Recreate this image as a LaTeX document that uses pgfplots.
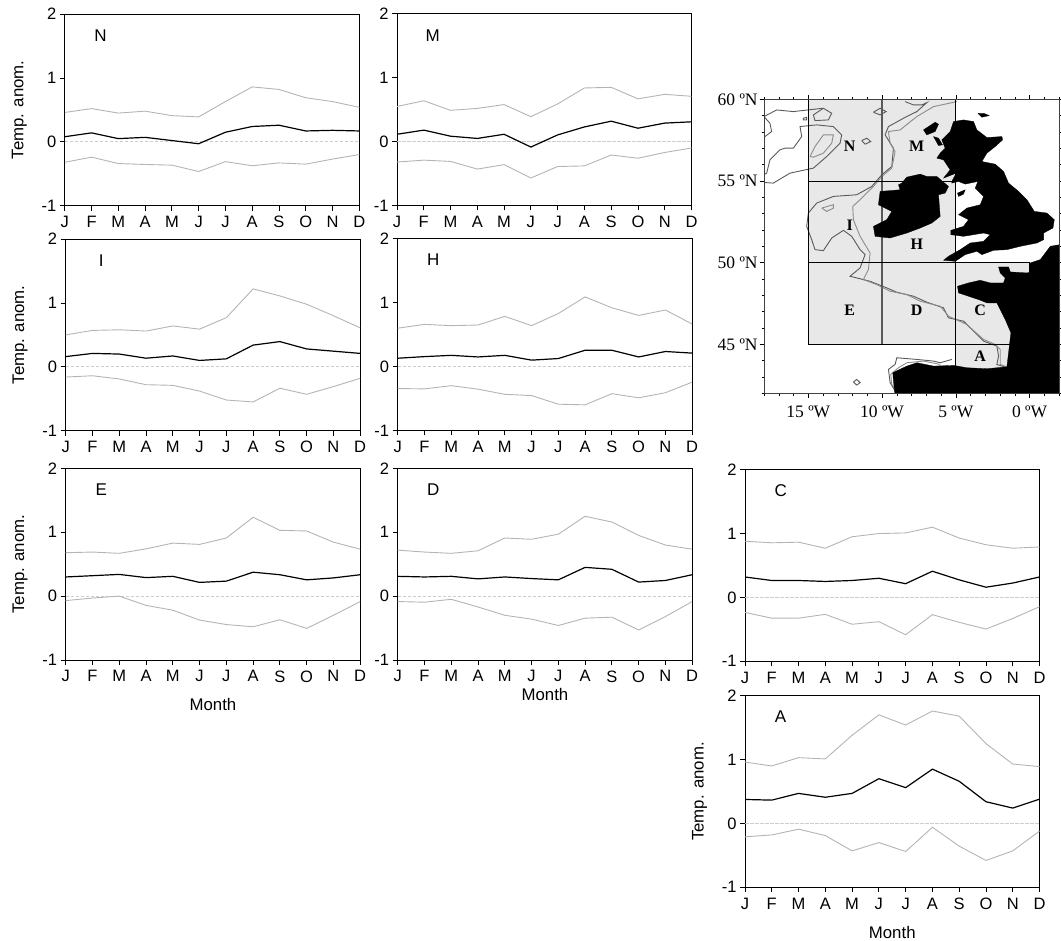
\documentclass[border=0pt]{standalone}
\usepackage{pgfplots}
\usepackage{pgfplotstable}
\usepackage{fontspec}
\pgfplotsset{compat=1.18}
\setmainfont{Liberation Sans}
\newfontfamily\mapfont{Liberation Serif}
\definecolor{band}{HTML}{B4B4B4}
\definecolor{zero}{HTML}{CDCDCD}
\definecolor{sea}{HTML}{E8E8E8}
\definecolor{cdark}{HTML}{5A5A5A}
\definecolor{clight}{HTML}{8C8C8C}

\pgfplotstableread{
m up mid low
1 .46 .08 -.32
2 .52 .14 -.24
3 .45 .05 -.34
4 .48 .07 -.355
5 .41 .02 -.365
6 .39 -.03 -.465
7 .63 .15 -.31
8 .86 .24 -.375
9 .82 .26 -.33
10 .69 .17 -.35
11 .63 .18 -.27
12 .54 .17 -.20
}\tN
\pgfplotstableread{
m up mid low
1 .55 .115 -.32
2 .64 .18 -.29
3 .49 .085 -.31
4 .52 .05 -.43
5 .58 .115 -.36
6 .39 -.085 -.57
7 .59 .105 -.39
8 .84 .23 -.38
9 .85 .32 -.21
10 .67 .21 -.26
11 .74 .29 -.17
12 .71 .31 -.10
}\tM
\pgfplotstableread{
m up mid low
1 .50 .16 -.16
2 .57 .21 -.14
3 .58 .20 -.19
4 .56 .135 -.28
5 .64 .17 -.29
6 .59 .10 -.38
7 .77 .125 -.52
8 1.22 .34 -.55
9 1.11 .395 -.335
10 .98 .28 -.43
11 .80 .245 -.31
12 .61 .21 -.18
}\tI
\pgfplotstableread{
m up mid low
1 .60 .13 -.345
2 .66 .155 -.35
3 .64 .175 -.30
4 .65 .15 -.355
5 .785 .175 -.435
6 .64 .10 -.455
7 .83 .125 -.59
8 1.09 .255 -.60
9 .92 .255 -.425
10 .80 .15 -.49
11 .885 .235 -.41
12 .665 .21 -.245
}\tH
\pgfplotstableread{
m up mid low
1 .68 .30 -.07
2 .69 .32 -.03
3 .67 .34 0
4 .74 .29 -.145
5 .83 .31 -.22
6 .81 .215 -.375
7 .91 .235 -.445
8 1.235 .375 -.48
9 1.03 .335 -.37
10 1.02 .255 -.505
11 .845 .285 -.30
12 .735 .335 -.085
}\tE
\pgfplotstableread{
m up mid low
1 .72 .31 -.085
2 .69 .30 -.095
3 .67 .31 -.05
4 .71 .27 -.17
5 .91 .30 -.30
6 .89 .275 -.36
7 .97 .255 -.46
8 1.25 .45 -.345
9 1.16 .42 -.33
10 .95 .22 -.53
11 .80 .245 -.32
12 .735 .335 -.085
}\tD
\pgfplotstableread{
m up mid low
1 .88 .32 -.235
2 .855 .265 -.325
3 .865 .265 -.325
4 .77 .25 -.265
5 .95 .265 -.42
6 1.00 .30 -.38
7 1.01 .215 -.585
8 1.10 .41 -.27
9 .93 .275 -.39
10 .825 .16 -.495
11 .77 .225 -.33
12 .79 .32 -.145
}\tC
\pgfplotstableread{
m up mid low
1 .96 .375 -.21
2 .90 .365 -.18
3 1.03 .47 -.09
4 1.01 .41 -.19
5 1.38 .47 -.43
6 1.70 .70 -.30
7 1.54 .56 -.44
8 1.76 .85 -.06
9 1.68 .66 -.355
10 1.25 .34 -.58
11 .93 .24 -.43
12 .89 .38 -.12
}\tA

\pgfplotsset{
  panel/.style={
    scale only axis, width=294.5pt, height=191.6pt,
    xmin=1, xmax=12, ymin=-1, ymax=2,
    xtick={1,...,12}, xticklabels={J,F,M,A,M,J,J,A,S,O,N,D},
    ytick={-1,0,1,2}, yticklabels={-1,0,1,2},
    tick align=outside, xtick pos=bottom, ytick pos=left,
    major tick length=5pt, axis line style={line width=0.9pt},
    tick style={line width=0.8pt,black},
    tick label style={font=\fontsize{16.5}{17}\selectfont},
    xticklabel style={yshift=-2pt},
    label style={font=\fontsize{16.8}{17}\selectfont},
    ylabel style={at={(axis description cs:0,0.5)},anchor=center,yshift=45.5pt},
    xlabel style={at={(axis description cs:0.5,0)},anchor=center},
  },
  /pgfplots/table/zz/.style={
    x expr={-18+(\thisrowno{0}-192.4)/44.2},
    y expr={60-(\thisrowno{1}-58)/49.1},
    row sep=\\
  },
  land/.style={fill=black,draw=black,line width=0.3pt},
  cd/.style={cdark,line width=0.9pt},
  cl/.style={clight,line width=0.9pt},
}

\newcommand{\panel}[5]{%
\begin{axis}[panel, at={(#2pt,#3pt)}, anchor=south west, #5]
  \addplot[zero,line width=0.8pt,dash pattern=on 3.5pt off 1.5pt] coordinates {(1,0) (12,0)};
  \addplot[band,line width=0.9pt] table[x=m,y=up] {#1};
  \addplot[band,line width=0.9pt] table[x=m,y=low] {#1};
  \addplot[black,line width=1.2pt] table[x=m,y=mid] {#1};
  \node[font=\fontsize{17}{17}\selectfont] at (axis description cs:0.121,0.889) {#4};
\end{axis}}

\begin{document}
\begin{tikzpicture}[x=1pt,y=1pt]
\useasboundingbox (0,0) rectangle (1061,941);
\clip (0,0) rectangle (1061,941);
\panel{\tN}{64.8}{735.3}{N}{ylabel={Temp. anom.}}
\panel{\tM}{397}{735.5}{M}{}
\panel{\tI}{65.7}{510.3}{I}{ylabel={Temp. anom.}}
\panel{\tH}{397.7}{510.6}{H}{}
\panel{\tE}{65.7}{281}{E}{ylabel={Temp. anom.},xlabel={Month},xlabel style={yshift=-44.5pt}}
\panel{\tD}{397.7}{281}{D}{xlabel={Month},xlabel style={yshift=-35pt}}
\panel{\tC}{745}{279.7}{C}{}
\panel{\tA}{745}{53.7}{A}{ylabel={Temp. anom.},xlabel={Month},xlabel style={yshift=-45pt}}

\begin{axis}[
  scale only axis, width=295pt, height=294pt,
  at={(764.1pt,547.7pt)}, anchor=south west,
  xmin=-18, xmax=2, ymin=42, ymax=60,
  xtick={-15,-10,-5,0}, xticklabels={15 ºW,10 ºW,5 ºW,0 ºW},
  ytick={45,50,55,60}, yticklabels={45 ºN,50 ºN,55 ºN,60 ºN},
  minor xtick={-18,...,2}, minor ytick={42,...,60},
  tick align=outside, xtick pos=both, ytick pos=both,
  xticklabel pos=bottom, yticklabel pos=left,
  major tick length=4.5pt, minor tick length=2.5pt,
  axis line style={line width=0.9pt,black!75},
  tick style={line width=0.7pt,black},
  tick label style={font=\mapfont\fontsize{17.5}{18}\selectfont},
  xticklabel style={yshift=-5pt},
  yticklabel style={xshift=1.5pt},
  axis on top,
]
  % shelf areas
  \addplot[fill=sea,draw=none] coordinates {(-15,45) (-15,60) (-5,60) (-5,50) (0,50) (0,45) (-1,45) (-1,43) (-5,43.4) (-5,45) (-15,45)};
  % contours
  \addplot[cd] table[zz] {192 110\\230 90\\280 95\\368 85\\};
  \addplot[cd] table[zz] {192 110\\210 130\\215 155\\195 170\\};
  \addplot[cd] table[zz] {192 308\\220 310\\270 280\\340 265\\380 230\\420 190\\425 165\\400 140\\350 135\\300 140\\305 170\\280 205\\255 205\\240 210\\210 240\\200 280\\192 285\\};
  \addplot[cl] table[zz] {330 230\\345 200\\370 165\\400 165\\395 190\\370 220\\340 232\\330 230\\};
  \addplot[cd] table[zz] {340 105\\370 85\\395 100\\385 120\\345 122\\340 105\\};
  \addplot[cd] table[zz] {310 115\\320 112\\320 120\\310 120\\310 115\\};
  \addplot[cd] table[zz] {520 97\\540 85\\558 95\\540 105\\520 97\\};
  \addplot[cd] table[zz] {485 182\\500 175\\512 185\\495 193\\485 182\\};
  \addplot[cl] table[zz] {365 385\\400 375\\400 385\\380 395\\365 385\\};
  \addplot[cd] table[zz] {460 908\\470 900\\480 910\\470 917\\460 908\\};
  \addplot[cd] table[zz] {615 65\\640 75\\665 75\\680 68\\650 95\\610 115\\565 140\\555 165\\580 205\\575 260\\545 285\\515 320\\470 345\\400 350\\350 370\\325 400\\320 440\\335 480\\345 510\\370 513\\395 475\\430 452\\455 470\\480 510\\495 525\\480 565\\450 590\\470 595\\510 605\\560 625\\590 638\\640 650\\680 668\\730 685\\745 715\\790 725\\850 785\\890 800\\895 830\\890 855\\920 865\\};
  \addplot[cl] table[zz] {770 65\\700 80\\650 110\\600 150\\565 155\\570 190\\585 215\\575 265\\545 290\\520 320\\480 360\\458 380\\460 420\\480 470\\510 520\\505 570\\490 600\\530 615\\570 635\\620 645\\660 665\\720 680\\745 710\\800 735\\850 780\\885 795\\900 810\\900 855\\918 862\\};
  \addplot[cd] table[zz] {755 840\\720 850\\700 845\\650 840\\590 835\\585 855\\565 870\\570 910\\585 935\\};
  \addplot[cl] table[zz] {720 855\\670 845\\620 850\\595 865\\572 885\\575 915\\590 935\\};
  % grid
  \addplot[black,line width=0.9pt] coordinates {(-15,60) (-15,45) (-1,45)};
  \addplot[cdark,line width=1.3pt] coordinates {(-10,60) (-10,45)};
  \addplot[black,line width=0.9pt] coordinates {(-5,60) (-5,43.5)};
  \addplot[black,line width=0.9pt] coordinates {(-15,55) (-5,55)};
  \addplot[black,line width=0.9pt] coordinates {(-15,50) (0,50) (0,49.4)};
  % land
  % Great Britain
  \addplot[land] table[zz] {760 125\\790 120\\820 125\\830 150\\860 173\\905 170\\907 180\\885 200\\860 220\\845 245\\885 253\\910 275\\925 310\\955 335\\980 360\\1002 395\\1040 400\\1062 420\\1058 445\\1030 460\\1030 480\\1010 490\\960 500\\920 510\\880 512\\845 525\\830 515\\795 525\\765 545\\730 542\\745 530\\780 510\\810 490\\850 485\\870 465\\850 460\\820 465\\790 470\\752 465\\752 452\\790 440\\805 420\\775 405\\800 385\\840 375\\850 350\\825 325\\833 305\\795 313\\775 305\\755 310\\755 305\\768 280\\730 295\\750 270\\730 240\\710 235\\720 220\\735 205\\725 180\\750 155\\760 125\\};
  % Ireland
  \addplot[land] table[zz] {605 310\\620 292\\660 283\\680 290\\710 290\\745 320\\735 340\\715 345\\720 410\\695 430\\660 445\\620 460\\570 475\\525 470\\520 440\\560 420\\575 395\\535 375\\540 335\\600 330\\595 315\\605 310\\};
  % islands
  \addplot[land] table[zz] {670 150\\705 127\\715 133\\705 155\\680 165\\670 150\\};
  \addplot[land] table[zz] {700 170\\715 175\\727 195\\715 197\\700 170\\};
  \addplot[land] table[zz] {833 100\\850 100\\867 107\\845 112\\833 100\\};
  \addplot[land] table[zz] {772 340\\795 330\\790 343\\775 350\\772 340\\};
  % France and Spain
  \addplot[land] table[zz] {895 562\\925 562\\930 577\\980 580\\988 578\\990 550\\1020 540\\1050 500\\1078 495\\1085 495\\1085 950\\585 950\\580 905\\578 880\\620 860\\650 850\\700 860\\760 858\\800 865\\860 868\\920 862\\932 760\\915 720\\890 670\\860 670\\835 660\\805 650\\775 640\\772 620\\805 610\\840 602\\870 610\\910 610\\915 595\\900 580\\895 562\\};
  % labels
  \begin{scope}[font=\mapfont\bfseries\fontsize{16}{16}\selectfont]
    \node at (axis cs:-12.2,57.1) {N};
    \node at (axis cs:-7.65,57.1) {M};
    \node at (axis cs:-12.2,52.3) {I};
    \node at (axis cs:-7.65,51.1) {H};
    \node at (axis cs:-12.2,47.1) {E};
    \node at (axis cs:-7.65,47.1) {D};
    \node at (axis cs:-3.35,47.1) {C};
    \node at (axis cs:-3.35,44.28) {A};
  \end{scope}
\end{axis}
\end{tikzpicture}
\end{document}
